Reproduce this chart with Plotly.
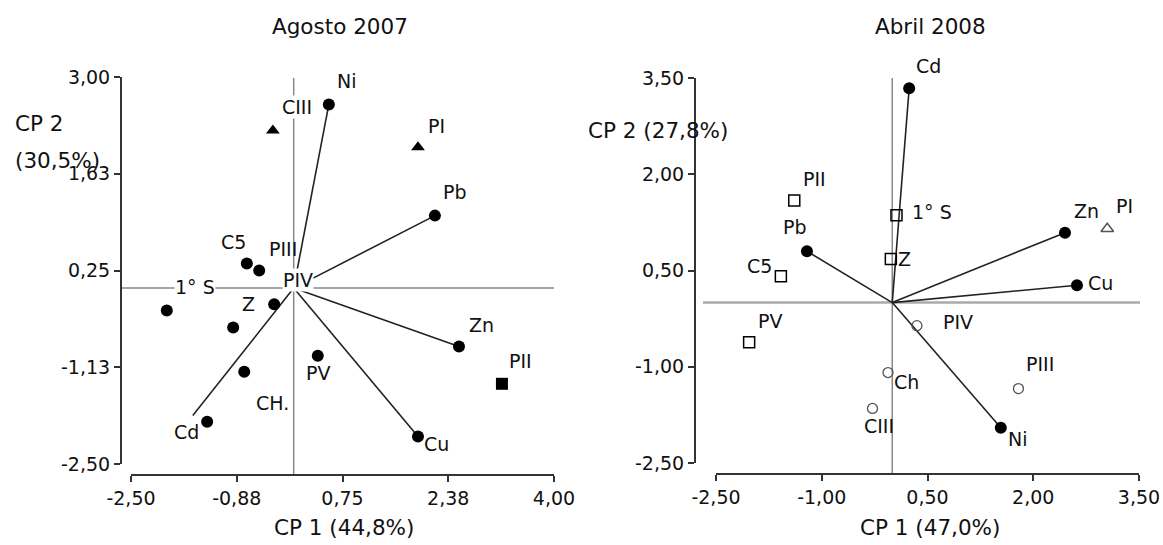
import plotly.graph_objects as go

W, H = 1163, 545
FONT = "DejaVu Sans, Verdana, sans-serif"
FS = 19       # point labels and tick labels
FT = 21.5     # titles and axis titles

# ---------------- Panel 1: Agosto 2007 ----------------
p1_var_names = ["Ni", "Pb", "Zn", "Cu", "Cd"]
p1_var_x = [0.54, 2.17, 2.54, 1.91, -1.55]
p1_var_y = [2.61, 1.03, -0.83, -2.11, -1.81]
p1_var_dot = [True, True, True, True, False]

p1_dot_x = [-0.72, -0.53, -1.95, -0.30, -0.93, -0.76, 0.37, -1.33]
p1_dot_y = [0.35, 0.25, -0.32, -0.23, -0.56, -1.19, -0.96, -1.90]
p1_tri_x = [-0.32, 1.91]
p1_tri_y = [2.24, 2.00]
p1_sq_x = [3.20]
p1_sq_y = [-1.36]

p1_labels = ["Ni", "CIII", "PI", "Pb", "C5", "PIII", "PIV", "1° S", "Z", "CH.", "PV", "Cd", "Zn", "PII", "Cu"]
p1_lab_x = [0.82, 0.05, 2.20, 2.48, -0.93, -0.16, 0.07, -1.52, -0.70, -0.32, 0.37, -1.64, 2.89, 3.49, 2.20]
p1_lab_y = [2.94, 2.57, 2.31, 1.37, 0.66, 0.56, 0.11, 0.02, -0.23, -1.64, -1.21, -2.05, -0.52, -1.04, -2.21]
p1_lab_bg = [False, True, False, False, False, False, True, True, False, False, False, False, False, False, False]

p1_xticks = [-2.5, -0.875, 0.75, 2.375, 4.0]
p1_xtick_text = ["-2,50", "-0,88", "0,75", "2,38", "4,00"]
p1_yticks = [-2.5, -1.125, 0.25, 1.625, 3.0]
p1_ytick_text = ["-2,50", "-1,13", "0,25", "1,63", "3,00"]

# ---------------- Panel 2: Abril 2008 ----------------
p2_var_names = ["Cd", "Zn", "Cu", "Pb", "Ni"]
p2_var_x = [0.24, 2.45, 2.62, -1.21, 1.54]
p2_var_y = [3.34, 1.09, 0.27, 0.80, -1.95]

p2_sq_x = [-1.39, -1.58, 0.06, -0.02, -2.03]
p2_sq_y = [1.59, 0.41, 1.36, 0.68, -0.62]
p2_circ_x = [0.35, -0.06, -0.28, 1.79]
p2_circ_y = [-0.36, -1.09, -1.65, -1.34]
p2_tri_x = [3.05]
p2_tri_y = [1.15]

p2_labels = ["Cd", "Zn", "PI", "Cu", "PII", "Pb", "C5", "1° S", "Z", "PV", "PIV", "PIII", "Ch", "CIII", "Ni"]
p2_lab_x = [0.51, 2.76, 3.30, 2.96, -1.10, -1.38, -1.88, 0.56, 0.18, -1.73, 0.93, 2.10, 0.20, -0.19, 1.78]
p2_lab_y = [3.69, 1.43, 1.51, 0.31, 1.93, 1.18, 0.57, 1.41, 0.68, -0.28, -0.30, -0.95, -1.23, -1.92, -2.12]

p2_xticks = [-2.5, -1.0, 0.5, 2.0, 3.5]
p2_xtick_text = ["-2,50", "-1,00", "0,50", "2,00", "3,50"]
p2_yticks = [-2.5, -1.0, 0.5, 2.0, 3.5]
p2_ytick_text = ["-2,50", "-1,00", "0,50", "2,00", "3,50"]

# ---------------- figure ----------------
fig = go.Figure()


def px_x(p):
    return p / W


def px_y(p):
    return 1 - p / H


def vec_lines(xs, ys):
    lx, ly = [], []
    for x, y in zip(xs, ys):
        lx += [0, x, None]
        ly += [0, y, None]
    return lx, ly


# Panel 1 traces
lx, ly = vec_lines(p1_var_x, p1_var_y)
fig.add_trace(go.Scatter(x=lx, y=ly, mode="lines", line=dict(color="#222", width=1.6),
                         xaxis="x", yaxis="y", hoverinfo="skip"))
fig.add_trace(go.Scatter(x=[x for x, d in zip(p1_var_x, p1_var_dot) if d],
                         y=[y for y, d in zip(p1_var_y, p1_var_dot) if d],
                         mode="markers", marker=dict(symbol="circle", size=12, color="black"),
                         xaxis="x", yaxis="y"))
fig.add_trace(go.Scatter(x=p1_dot_x, y=p1_dot_y, mode="markers",
                         marker=dict(symbol="circle", size=12, color="black"), xaxis="x", yaxis="y"))
fig.add_trace(go.Scatter(x=p1_tri_x, y=p1_tri_y, mode="markers",
                         marker=dict(symbol="triangle-up", size=12, color="black"), xaxis="x", yaxis="y"))
fig.add_trace(go.Scatter(x=p1_sq_x, y=p1_sq_y, mode="markers",
                         marker=dict(symbol="square", size=12, color="black"), xaxis="x", yaxis="y"))

# Panel 2 traces
lx, ly = vec_lines(p2_var_x, p2_var_y)
fig.add_trace(go.Scatter(x=lx, y=ly, mode="lines", line=dict(color="#222", width=1.6),
                         xaxis="x2", yaxis="y2", hoverinfo="skip"))
fig.add_trace(go.Scatter(x=p2_var_x, y=p2_var_y, mode="markers",
                         marker=dict(symbol="circle", size=12, color="black"), xaxis="x2", yaxis="y2"))
fig.add_trace(go.Scatter(x=p2_sq_x, y=p2_sq_y, mode="markers",
                         marker=dict(symbol="square-open", size=11, color="black", line=dict(width=1.5)),
                         xaxis="x2", yaxis="y2"))
fig.add_trace(go.Scatter(x=p2_circ_x, y=p2_circ_y, mode="markers",
                         marker=dict(symbol="circle-open", size=10, color="#555", line=dict(width=1.3)),
                         xaxis="x2", yaxis="y2"))
fig.add_trace(go.Scatter(x=p2_tri_x, y=p2_tri_y, mode="markers",
                         marker=dict(symbol="triangle-up-open", size=11, color="#555", line=dict(width=1.5)),
                         xaxis="x2", yaxis="y2"))

# reference lines through origin
shapes = [
    dict(type="line", xref="paper", yref="y", x0=px_x(121), x1=px_x(554), y0=0, y1=0,
         line=dict(color="#888", width=1.5), layer="below"),
    dict(type="line", xref="x", yref="paper", x0=0, x1=0, y0=px_y(78), y1=px_y(475),
         line=dict(color="#888", width=1.5), layer="below"),
    dict(type="line", xref="paper", yref="y2", x0=px_x(703), x1=px_x(1140), y0=0, y1=0,
         line=dict(color="#aaa", width=2.5), layer="below"),
    dict(type="line", xref="x2", yref="paper", x0=0, x1=0, y0=px_y(78), y1=px_y(474),
         line=dict(color="#888", width=1.5), layer="below"),
]

annotations = []
for t, x, y, bg in zip(p1_labels, p1_lab_x, p1_lab_y, p1_lab_bg):
    annotations.append(dict(text=t, x=x, y=y, xref="x", yref="y", showarrow=False,
                            xanchor="center", yanchor="middle",
                            font=dict(size=FS, color="#111", family=FONT),
                            bgcolor="white" if bg else "rgba(0,0,0,0)", borderpad=0))
for t, x, y in zip(p2_labels, p2_lab_x, p2_lab_y):
    # labels above the axis top are placed at the top edge and shifted up
    yshift = 0
    if y > 3.5:
        yshift = (y - 3.5) * 64.2
        y = 3.5
    annotations.append(dict(text=t, x=x, y=y, xref="x2", yref="y2", showarrow=False, yshift=yshift,
                            xanchor="center", yanchor="middle",
                            font=dict(size=FS, color="#111", family=FONT)))


def paper_text(t, x, y, anchor="center", size=FT):
    return dict(text=t, x=px_x(x), y=px_y(y), xref="paper", yref="paper", showarrow=False,
                xanchor=anchor, yanchor="middle", font=dict(size=size, color="#111", family=FONT))


annotations += [
    paper_text("Agosto 2007", 340, 26),
    paper_text("Abril 2008", 930, 26),
    paper_text("CP 1 (44,8%)", 344, 527),
    paper_text("CP 1 (47,0%)", 930, 527),
    paper_text("CP 2", 13, 123, "left"),
    paper_text("(30,5%)", 13, 160, "left"),
    paper_text("CP 2 (27,8%)", 586, 130, "left"),
]

axis_common = dict(showgrid=False, zeroline=False, showline=True, linecolor="#333", linewidth=2,
                   ticks="outside", ticklen=6, tickwidth=1.5, tickcolor="#333",
                   tickfont=dict(size=FS, color="#111", family=FONT), anchor="free")

fig.update_layout(
    width=W, height=H, margin=dict(l=0, r=0, t=0, b=0, autoexpand=False),
    paper_bgcolor="white", plot_bgcolor="white", showlegend=False,
    font=dict(family=FONT, size=FS, color="#111"),
    xaxis=dict(axis_common, domain=[px_x(131), px_x(554)], range=[-2.5, 4.0],
               tickvals=p1_xticks, ticktext=p1_xtick_text, position=px_y(475)),
    yaxis=dict(axis_common, domain=[px_y(464), px_y(77)], range=[-2.5, 3.0],
               tickvals=p1_yticks, ticktext=p1_ytick_text, position=px_x(121)),
    xaxis2=dict(axis_common, domain=[px_x(716), px_x(1139)], range=[-2.5, 3.5],
                tickvals=p2_xticks, ticktext=p2_xtick_text, position=px_y(474)),
    yaxis2=dict(axis_common, domain=[px_y(463), px_y(78)], range=[-2.5, 3.5],
                tickvals=p2_yticks, ticktext=p2_ytick_text, position=px_x(695)),
    shapes=shapes, annotations=annotations,
)

fig.write_html("out.html")
